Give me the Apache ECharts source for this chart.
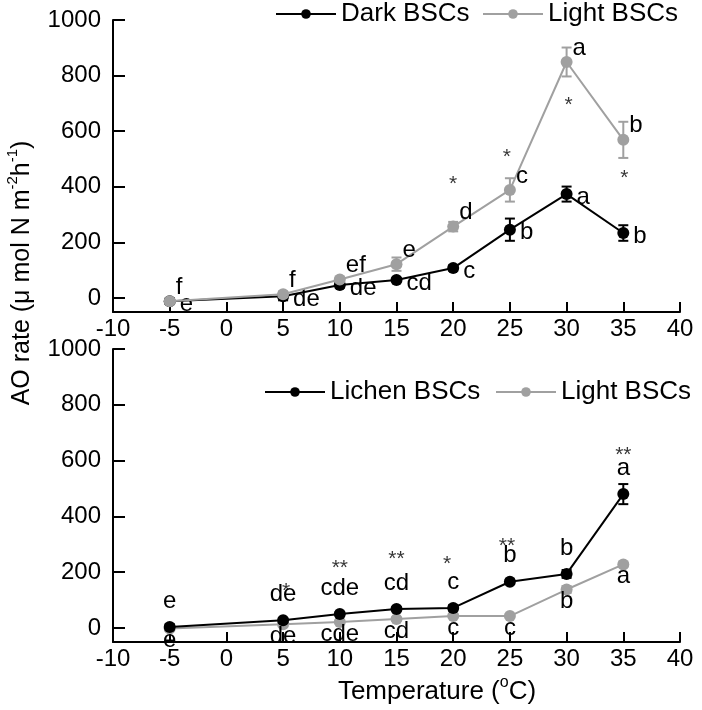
<!DOCTYPE html>
<html>
<head>
<meta charset="utf-8">
<script src="https://cdn.jsdelivr.net/npm/echarts@6/dist/echarts.min.js"></script>
<style>
html,body{margin:0;padding:0;background:#fff;}
#chart{width:702px;height:710px;}
</style>
</head>
<body>
<div id="chart"></div>
<script>
// ---- data ----
const temps = [-5, 5, 10, 15, 20, 25, 30, 35];
const xTicks = [-10, -5, 0, 5, 10, 15, 20, 25, 30, 35, 40];
const yTicks = [0, 200, 400, 600, 800, 1000];

const darkBSC = [-11, 7, 47, 65, 108, 246, 374, 234];
const darkErr = [10, 15, 10, 8, 10, 40, 27, 28];
const darkLetters = ['e', 'de', 'de', 'cd', 'c', 'b', 'a', 'b'];

const lightTop = [-11, 14, 67, 122, 257, 389, 849, 569];
const lightTopErr = [8, 10, 8, 24, 17, 42, 52, 65];
const lightTopLetters = ['f', 'f', 'ef', 'e', 'd', 'c', 'a', 'b'];
const topStars = ['', '', '', '', '*', '*', '*', '*'];

const lichen = [4, 28, 50, 68, 72, 166, 194, 480];
const lichenErr = [10, 8, 8, 8, 10, 8, 14, 36];
const lichenLetters = ['e', 'de', 'cde', 'cd', 'c', 'b', 'b', 'a'];
const botStars = ['', '*', '**', '**', '*', '**', '', '**'];

const lightBot = [-2, 14, 22, 32, 43, 43, 138, 228];
const lightBotErr = [8, 8, 6, 6, 6, 6, 12, 8];
const lightBotLetters = ['e', 'de', 'cde', 'cd', 'c', 'c', 'b', 'a'];

// ---- layout (label offsets in px) ----
const topStarOffsets = [[0,0],[0,0],[0,0],[0,0],[0,-42],[-3,-33],[2,43],[1,38]];
const botStarOffsets = [[0,0],[3,-29],[0,-46],[0,-50],[-6,-44],[-3,-36],[0,0],[0,-39]];

const BLACK = '#000000';
const GRAY = '#a0a0a0';
const FONT = 'Liberation Sans, Arial, sans-serif';

const chart = echarts.init(document.getElementById('chart'), null, {renderer: 'canvas'});

function lineSeries(name, values, letters, color, idx, labelCfg, z) {
  return {
    type: 'line', name: name, xAxisIndex: idx, yAxisIndex: idx,
    symbol: 'circle', symbolSize: 12, showSymbol: true, z: z,
    lineStyle: {color: color, width: 2}, itemStyle: {color: color},
    data: temps.map((t, i) => ({
      value: [t, values[i]],
      label: Object.assign({show: true, formatter: letters[i], color: BLACK,
        fontSize: 24, fontFamily: FONT}, labelCfg)
    }))
  };
}

function errSeries(name, values, errs, color, idx, z) {
  return {
    type: 'custom', name: name + ' err', xAxisIndex: idx, yAxisIndex: idx, z: z, silent: true,
    data: temps.map((t, i) => [t, values[i], errs[i]]),
    renderItem: function (params, api) {
      const x = api.value(0), y = api.value(1), e = api.value(2);
      const p1 = api.coord([x, y + e]);
      const p2 = api.coord([x, y - e]);
      const w = 5;
      const st = {stroke: color, lineWidth: 2};
      return {type: 'group', children: [
        {type: 'line', shape: {x1: p1[0], y1: p1[1], x2: p2[0], y2: p2[1]}, style: st},
        {type: 'line', shape: {x1: p1[0] - w, y1: p1[1], x2: p1[0] + w, y2: p1[1]}, style: st},
        {type: 'line', shape: {x1: p2[0] - w, y1: p2[1], x2: p2[0] + w, y2: p2[1]}, style: st}
      ]};
    }
  };
}

function starSeries(values, stars, offsets, idx) {
  return {
    type: 'scatter', name: 'stars' + idx, xAxisIndex: idx, yAxisIndex: idx,
    symbolSize: 0, silent: true, z: 10,
    data: temps.map((t, i) => ({
      value: [t, values[i]],
      label: {show: stars[i] !== '', formatter: stars[i], position: 'inside',
        offset: offsets[i], color: BLACK, fontSize: 21, fontFamily: FONT}
    }))
  };
}

function xAxis(idx) {
  return {
    type: 'value', gridIndex: idx, min: -10, max: 40, interval: 5,
    axisLine: {onZero: false, lineStyle: {color: BLACK, width: 2}},
    axisTick: {inside: true, length: 10, lineStyle: {color: BLACK, width: 2}},
    axisLabel: {fontSize: 24, color: BLACK, fontFamily: FONT, margin: 5, showMinLabel: true, showMaxLabel: true,
      formatter: v => String(v)},
    splitLine: {show: false}
  };
}
function yAxis(idx) {
  return {
    type: 'value', gridIndex: idx, min: -50, max: 1000,
    axisLine: {show: true, onZero: false, lineStyle: {color: BLACK, width: 2}},
    axisTick: {show: true, inside: true, length: 12, customValues: yTicks, lineStyle: {color: BLACK, width: 2}},
    axisLabel: {fontSize: 24, color: BLACK, fontFamily: FONT, margin: 12, customValues: yTicks,
      formatter: v => String(v)},
    splitLine: {show: false}
  };
}

function legend(name, left, top) {
  return {
    data: [name], left: left, top: top, orient: 'horizontal',
    itemWidth: 60, itemHeight: 12, itemGap: 0, padding: 0,
    textStyle: {fontSize: 26, color: BLACK, fontFamily: FONT},
    selectedMode: false
  };
}

const option = {
  animation: false,
  backgroundColor: '#ffffff',
  textStyle: {fontFamily: FONT},
  grid: [
    {left: 113, right: 22, top: 20, height: 292, containLabel: false},
    {left: 113, right: 22, top: 349, height: 293, containLabel: false}
  ],
  xAxis: [xAxis(0), xAxis(1)],
  yAxis: [yAxis(0), yAxis(1)],
  legend: [
    legend('Dark BSCs', 275, 1),
    legend('Light BSCs', 482, 1),
    legend('Lichen BSCs', 264, 379),
    legend('Light BSCs', 495, 379)
  ],
  series: [
    errSeries('Dark BSCs', darkBSC, darkErr, BLACK, 0, 2),
    lineSeries('Dark BSCs', darkBSC, darkLetters, BLACK, 0, {position: 'right', distance: 4, offset: [0, 3]}, 3),
    errSeries('Light BSCs', lightTop, lightTopErr, GRAY, 0, 4),
    lineSeries('Light BSCs', lightTop, lightTopLetters, GRAY, 0, {position: 'right', distance: 0, offset: [0, -14]}, 5),
    starSeries(lightTop, topStars, topStarOffsets, 0),

    errSeries('Light BSCs', lightBot, lightBotErr, GRAY, 1, 2),
    lineSeries('Light BSCs', lightBot, lightBotLetters, GRAY, 1, {position: 'inside', offset: [0, 12]}, 3),
    errSeries('Lichen BSCs', lichen, lichenErr, BLACK, 1, 4),
    lineSeries('Lichen BSCs', lichen, lichenLetters, BLACK, 1, {position: 'top', distance: 8}, 5),
    starSeries(lichen, botStars, botStarOffsets, 1)
  ],
  graphic: [
    {
      type: 'text', x: 20, y: 273, rotation: Math.PI / 2,
      style: {
        text: '{n|AO rate (μ mol N m}{s|-2}{n|h}{s|-1}{n|)}',
        align: 'center', verticalAlign: 'middle',
        rich: {
          n: {fontSize: 25, fontFamily: FONT, fill: BLACK, lineHeight: 29, verticalAlign: 'bottom'},
          s: {fontSize: 15, fontFamily: FONT, fill: BLACK, lineHeight: 29, verticalAlign: 'top'}
        }
      }
    },
    {
      type: 'text', x: 437, y: 690,
      style: {
        text: '{n|Temperature (}{s|o}{n|C)}',
        align: 'center', verticalAlign: 'middle',
        rich: {
          n: {fontSize: 26, fontFamily: FONT, fill: BLACK, lineHeight: 30, verticalAlign: 'bottom'},
          s: {fontSize: 16, fontFamily: FONT, fill: BLACK, lineHeight: 30, verticalAlign: 'top'}
        }
      }
    }
  ]
};
chart.setOption(option);
</script>
</body>
</html>
